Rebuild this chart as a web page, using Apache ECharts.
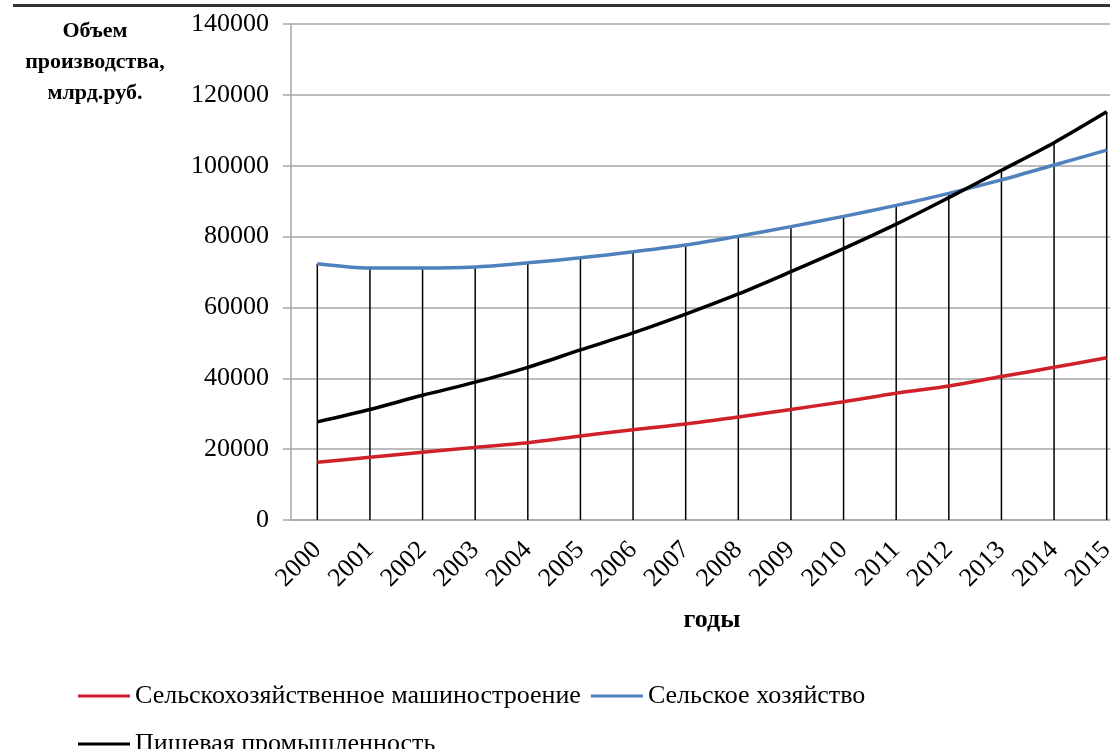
<!DOCTYPE html>
<html>
<head>
<meta charset="utf-8">
<script src="https://cdn.jsdelivr.net/npm/echarts@6/dist/echarts.min.js"></script>
<style>
  html, body { margin: 0; padding: 0; background: #fff; }
  #main { width: 1110px; height: 749px; }
</style>
</head>
<body>
<div id="main"></div>
<script>
const years = ['2000', '2001', '2002', '2003', '2004', '2005', '2006', '2007',
  '2008', '2009', '2010', '2011', '2012', '2013', '2014', '2015'];

// Сельскохозяйственное машиностроение
const agroMachinery = [16300, 17700, 19100, 20500, 21800, 23700, 25500, 27100,
  29100, 31200, 33400, 35800, 37800, 40500, 43100, 45800];
// Сельское хозяйство
const agriculture = [72300, 71100, 71100, 71400, 72600, 74000, 75700, 77600,
  80100, 82800, 85700, 88800, 92200, 96000, 100200, 104400];
// Пищевая промышленность
const foodIndustry = [27700, 31200, 35200, 38900, 43100, 48000, 52800, 58100,
  63800, 70100, 76600, 83500, 91000, 98700, 106500, 115200];

// vertical drop lines go up to the highest series in each year
const dropTop = years.map((_, i) => Math.max(agroMachinery[i], agriculture[i], foodIndustry[i]));

const chart = echarts.init(document.getElementById('main'));
const serif = '"Liberation Serif", "DejaVu Serif", serif';
const gridGray = '#A6A6A6';
const legendText = { fontFamily: serif, fontSize: 26, color: '#000' };

const option = {
  animation: false,
  textStyle: { fontFamily: serif, color: '#000' },
  graphic: [
    { type: 'rect', shape: { x: 13, y: 4, width: 1097, height: 3 }, style: { fill: '#333' } },
    {
      type: 'text', x: 95, y: 16,
      style: {
        text: 'Объем\nпроизводства,\nмлрд.руб.',
        fontFamily: serif, fontWeight: 'bold', fontSize: 22, lineHeight: 31,
        fill: '#000', align: 'center'
      }
    }
  ],
  grid: { left: 291, top: 24, width: 842, height: 496, outerBoundsMode: 'none' },
  legend: [
    {
      data: ['Сельскохозяйственное машиностроение', 'Сельское хозяйство'],
      left: 73, top: 678, icon: 'rect', itemWidth: 52, itemHeight: 3, itemGap: 10,
      textStyle: legendText
    },
    {
      data: ['Пищевая промышленность'],
      left: 73, top: 726, icon: 'rect', itemWidth: 52, itemHeight: 3,
      textStyle: legendText
    }
  ],
  xAxis: {
    type: 'category',
    data: years,
    boundaryGap: true,
    name: 'годы',
    nameLocation: 'middle',
    nameGap: 87,
    nameTextStyle: { fontFamily: serif, fontWeight: 'bold', fontSize: 26, color: '#000' },
    axisLine: { lineStyle: { color: gridGray, width: 1.5 } },
    axisTick: { show: false },
    axisLabel: { rotate: 45, margin: 26, fontSize: 26, color: '#000', fontFamily: serif }
  },
  yAxis: {
    type: 'value',
    min: 0,
    max: 140000,
    interval: 20000,
    axisLine: { show: true, lineStyle: { color: gridGray, width: 1.5 } },
    axisTick: { show: true, length: 8, lineStyle: { color: gridGray, width: 1.5 } },
    axisLabel: {
      margin: 22, fontSize: 26, color: '#000', fontFamily: serif,
      formatter: (v) => String(v)
    },
    splitLine: { lineStyle: { color: gridGray, width: 1.5 } }
  },
  series: [
    {
      name: 'drop',
      type: 'bar',
      data: dropTop,
      barWidth: 1.5,
      itemStyle: { color: '#000' },
      z: 1,
      silent: true
    },
    {
      name: 'Сельскохозяйственное машиностроение',
      type: 'line',
      data: agroMachinery,
      smooth: 0.3,
      showSymbol: false,
      lineStyle: { color: '#D0212B', width: 3.5 },
      itemStyle: { color: '#D0212B' },
      z: 3
    },
    {
      name: 'Сельское хозяйство',
      type: 'line',
      data: agriculture,
      smooth: 0.3,
      showSymbol: false,
      lineStyle: { color: '#4F81BD', width: 3.5 },
      itemStyle: { color: '#4F81BD' },
      z: 3
    },
    {
      name: 'Пищевая промышленность',
      type: 'line',
      data: foodIndustry,
      smooth: 0.3,
      showSymbol: false,
      lineStyle: { color: '#000', width: 3.5 },
      itemStyle: { color: '#000' },
      z: 4
    }
  ]
};

chart.setOption(option);
</script>
</body>
</html>
